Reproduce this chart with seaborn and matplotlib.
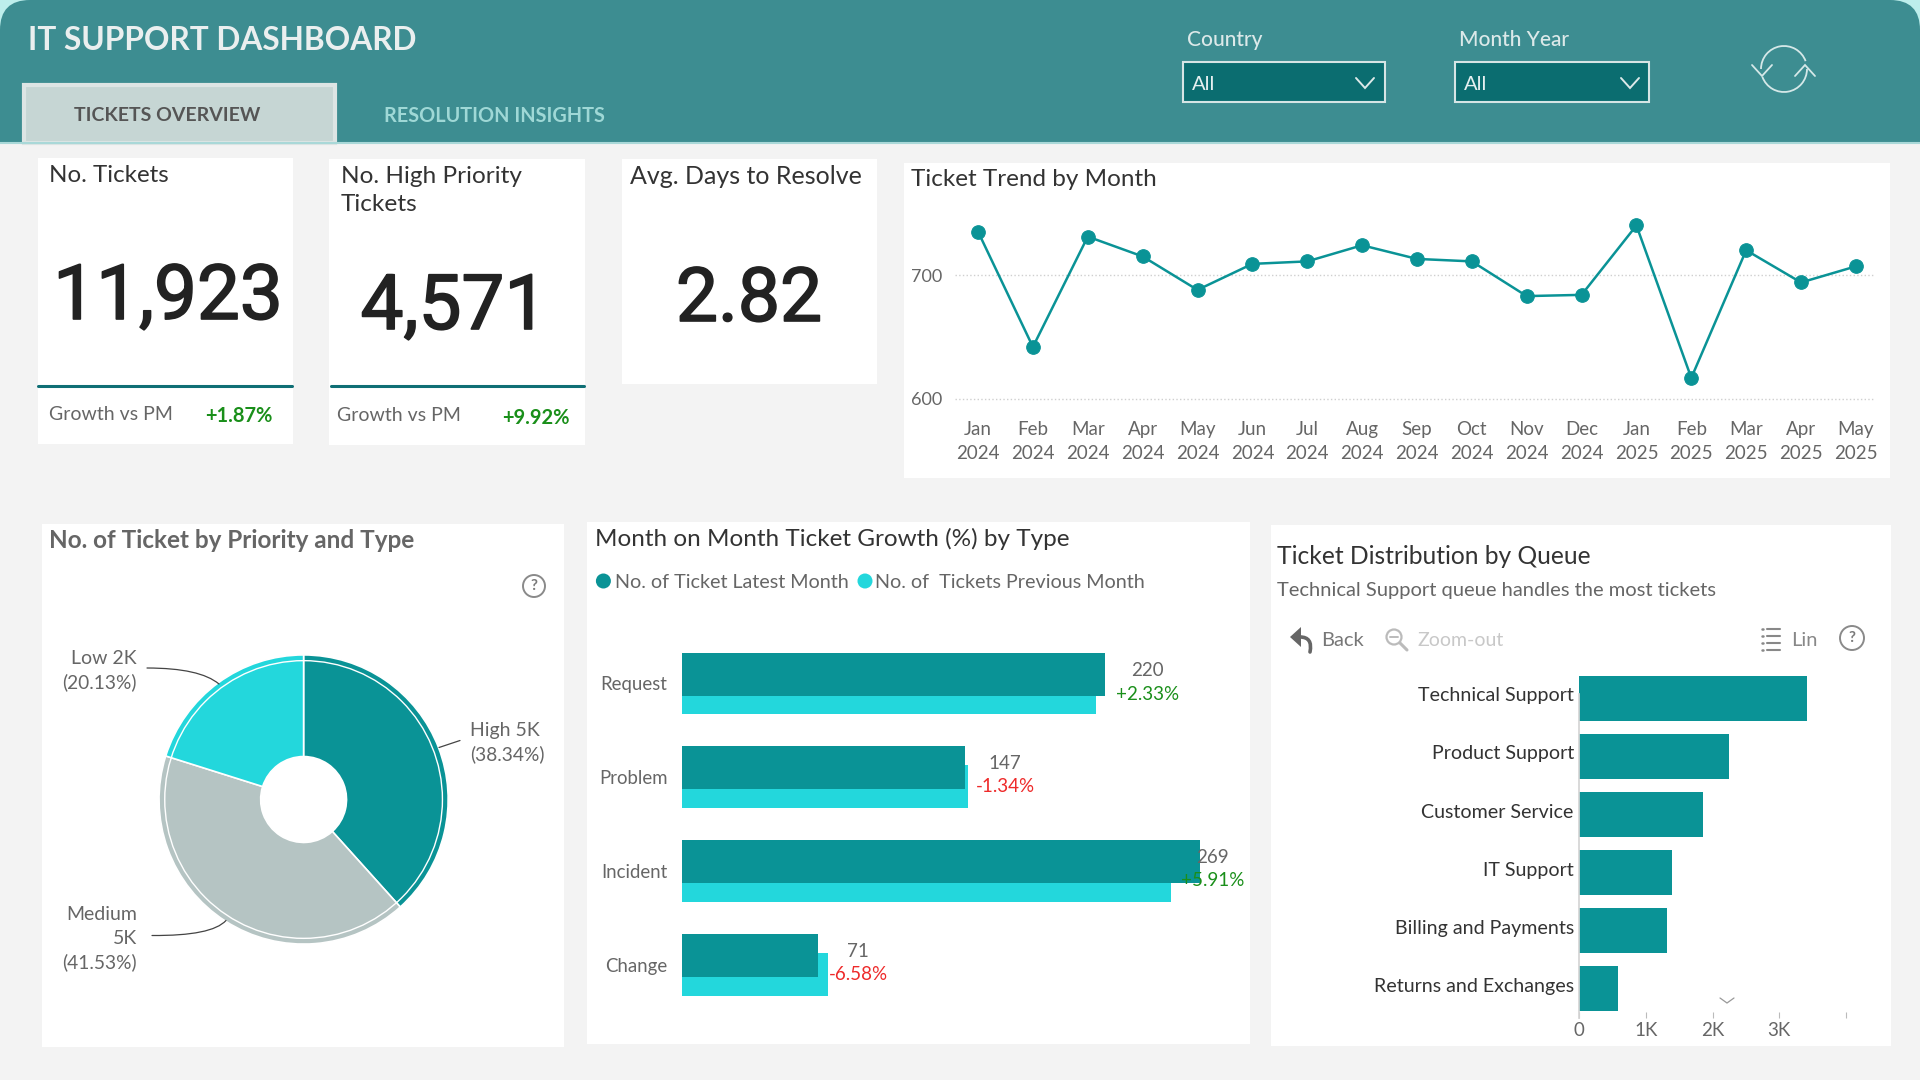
import matplotlib
matplotlib.use("Agg")
import matplotlib.patheffects as pe
import matplotlib.pyplot as plt
import pandas as pd
import seaborn as sns
from matplotlib.patches import Circle, FancyBboxPatch, PathPatch, Polygon, Rectangle
from matplotlib.path import Path
from matplotlib.transforms import Affine2D, ScaledTranslation

# chart values
months = ["Jan\n2024", "Feb\n2024", "Mar\n2024", "Apr\n2024", "May\n2024", "Jun\n2024",
          "Jul\n2024", "Aug\n2024", "Sep\n2024", "Oct\n2024", "Nov\n2024", "Dec\n2024",
          "Jan\n2025", "Feb\n2025", "Mar\n2025", "Apr\n2025", "May\n2025"]
tickets_by_month = [735, 642, 731, 715, 688, 709, 711, 724, 713, 711, 683, 684, 740, 617, 720, 694, 707]

priorities = ["High", "Medium", "Low"]
priority_share = [38.34, 41.53, 20.13]

ticket_types = ["Request", "Problem", "Incident", "Change"]
latest_month = [220, 147, 269, 71]
previous_month = [215, 149, 254, 76]
growth_labels = ["+2.33%", "-1.34%", "+5.91%", "-6.58%"]

queues = ["Technical Support", "Product Support", "Customer Service", "IT Support",
          "Billing and Payments", "Returns and Exchanges"]
queue_tickets = [3420, 2240, 1860, 1390, 1310, 580]
queue_ticks = [0, 1000, 2000, 3000, 4000]
queue_tick_labels = ["0", "1K", "2K", "3K", ""]

# colours
TEAL = "#0A9396"
CYAN = "#23D7DC"
SLATE = "#B5C4C3"
HEADER = "#3D8D91"
DARK = "#333333"
GREY = "#666666"
GREEN = "#1A8F1A"
RED = "#EE2A2A"

W, H = 1920, 1080

sns.set_theme(style="white")
plt.rcParams["font.family"] = ["Lato", "DejaVu Sans"]

fig = plt.figure(figsize=(19.2, 10.8), dpi=100, facecolor="#F3F3F3")


def px_axes(left, top, right, bottom, z=1):
    ax = fig.add_axes([left / W, 1 - bottom / H, (right - left) / W, (bottom - top) / H], zorder=z)
    ax.set_facecolor("none")
    return ax


# pixel layers for the dashboard chrome, one behind the charts and one on top
bg = px_axes(0, 0, W, H, z=0)
fg = px_axes(0, 0, W, H, z=10)
for layer in (bg, fg):
    layer.set_xlim(0, W)
    layer.set_ylim(H, 0)
    layer.axis("off")


def txt(x, y, s, size=14, color=GREY, weight="normal", ha="left", family=None):
    return fg.text(x, y + 1.5, s, fontsize=size, color=color, fontweight=weight, ha=ha, va="center",
                   family=family or ["Lato", "DejaVu Sans"])


def big_number(x, y, s, size=55):
    # regular Roboto is a bit thin next to the original, thicken it slightly
    number = txt(x, y, s, size=size, color="#222222", ha="center", family=["Roboto"])
    number.set_path_effects([pe.withStroke(linewidth=1.2, foreground="#222222")])


def panel(left, top, right, bottom):
    bg.add_patch(Rectangle((left, top), right - left, bottom - top, fc="white", ec="none"))


def stroke(points, color, lw=1.0, curve=False):
    codes = [Path.MOVETO] + ([Path.CURVE3, Path.CURVE3] if curve else [Path.LINETO] * (len(points) - 1))
    fg.add_patch(PathPatch(Path(points, codes), fc="none", ec=color, lw=lw, capstyle="round"))


def help_icon(x, y, r=11):
    fg.add_patch(Circle((x, y), r, fc="none", ec="#8A8A8A", lw=1.4))
    txt(x, y - 1.5, "?", size=11, color="#7A7A7A", weight="bold", ha="center")


# Header:
def draw_header():
    bg.add_patch(Rectangle((0, 0), W, 40, fc="#BDEEEC", ec="none"))
    bg.add_patch(FancyBboxPatch((30, 30), W - 60, 200, boxstyle="round,pad=30,rounding_size=30",
                                fc=HEADER, ec="none"))
    bg.add_patch(Rectangle((0, 143), W, H - 143, fc="#F3F3F3", ec="none"))
    bg.plot([0, W], [143, 143], color="#A9D8D8", lw=1.5)
    bg.add_patch(Rectangle((24, 85), 311, 58, fc="#C6D6D4", ec="#DDE5E4", lw=3))
    txt(28, 38.5, "IT SUPPORT DASHBOARD", size=22.8, color="#EAEFEF", weight="bold")
    txt(167, 114, "TICKETS OVERVIEW", size=14, color="#555555", weight="bold", ha="center")
    txt(384, 114, "RESOLUTION INSIGHTS", size=14.3, color="#9FD8D6", weight="bold")

    for label, x0, x1, chev in (("Country", 1183, 1385, 1365), ("Month Year", 1455, 1649, 1630)):
        txt(x0 + 4, 39, label, size=15, color="#DCE9E9", weight="medium")
        bg.add_patch(Rectangle((x0, 62), x1 - x0, 40, fc="#0B6D70", ec="#D6E5E5", lw=1.5))
        txt(x0 + 9, 83, "All", size=14.5, color="#E6F0F0")
        stroke([(chev - 9, 78), (chev, 88), (chev + 9, 78)], "#DCE9E9", lw=1.4)

    # refresh icon
    cx, cy, r = 1784, 69, 23
    ring = Affine2D().scale(r).translate(cx, cy)
    fg.add_patch(PathPatch(Path.arc(180, 340).transformed(ring), fc="none", ec="#D5E8E8", lw=1.3))
    fg.add_patch(PathPatch(Path.arc(0, 160).transformed(ring), fc="none", ec="#D5E8E8", lw=1.3))
    stroke([(1752, 65), (1762, 76), (1772, 65)], "#D5E8E8", lw=1.3)
    stroke([(1795, 76), (1805, 65), (1815, 76)], "#D5E8E8", lw=1.3)


# KPI cards:
def draw_cards():
    panel(38, 158, 293, 444)
    panel(329, 159, 585, 445)
    panel(622, 159, 877, 384)
    bg.plot([38, 292], [386, 386], color="#0F6F75", lw=2.2)
    bg.plot([331, 584], [386, 386], color="#0F6F75", lw=2.2)

    txt(49, 174, "No. Tickets", size=17.4, color=DARK)
    big_number(168, 297, "11,923")
    txt(49, 413, "Growth vs PM", size=14)
    txt(205, 414, "+1.87%", size=14.5, color=GREEN, weight="bold")

    txt(341, 175, "No. High Priority", size=17.6, color=DARK)
    txt(341, 203, "Tickets", size=17.6, color=DARK)
    big_number(454, 307, "4,571")
    txt(337, 414, "Growth vs PM", size=14)
    txt(502, 417, "+9.92%", size=14.5, color=GREEN, weight="bold")

    txt(630, 175, "Avg. Days to Resolve", size=18, color=DARK)
    big_number(749, 299, "2.82", size=54)


#Line chart:
def draw_trend():
    panel(904, 163, 1890, 478)
    txt(911, 178, "Ticket Trend by Month", size=17.5, color=DARK)

    ax = px_axes(955, 205, 1874, 410)
    sns.lineplot(x=months, y=tickets_by_month, sort=False, color=TEAL, linewidth=1.8, marker="o",
                 markersize=9.8, markeredgecolor=TEAL, ax=ax)
    ax.set_xlim(-0.42, 16.33)
    ax.set_ylim(591.1, 756.5)
    ax.set_yticks([600, 700])
    ax.grid(axis="y", linestyle=":", color="#CFCFCF", linewidth=1)
    ax.tick_params(axis="x", length=0, labelsize=13.5, labelcolor=GREY, pad=8)
    ax.tick_params(axis="y", length=0, labelsize=13, labelcolor=GREY, pad=9)
    for tick in ax.get_xticklabels():
        tick.set_linespacing(1.5)
    sns.despine(ax=ax, left=True, bottom=True)


#Pie Chart:
def draw_priority():
    panel(42, 524, 564, 1047)
    txt(49, 539, "No. of Ticket by Priority and Type", size=17.5, color=GREY, weight="bold")
    help_icon(534, 586)

    ax = px_axes(303.6 - 146, 799.5 - 146, 303.6 + 146, 799.5 + 146)
    colors = sns.color_palette([TEAL, SLATE, CYAN])
    ax.pie(priority_share, colors=colors, startangle=90, counterclock=False, radius=1.01,
           wedgeprops={"width": 0.71, "edgecolor": "white", "linewidth": 1.2})
    ax.add_patch(Circle((0, 0), 0.97, fc="none", ec="white", lw=1))
    ax.set_xlim(-1.02, 1.02)
    ax.set_ylim(-1.02, 1.02)

    txt(470, 729, "High 5K", size=14)
    txt(470, 753, "(38.34%)", size=13.8)
    txt(137, 657, "Low 2K", size=14, ha="right")
    txt(137, 681, "(20.13%)", size=13.8, ha="right")
    txt(137, 913, "Medium", size=14, ha="right")
    txt(137, 937, "5K", size=14, ha="right")
    txt(137, 961, "(41.53%)", size=13.8, ha="right")
    stroke([(439, 747.5), (460, 740.5)], "#444444", lw=0.9)
    stroke([(147, 668), (200, 668), (219, 684)], "#444444", lw=0.9, curve=True)
    stroke([(152, 935.5), (212, 936), (226, 920.5)], "#444444", lw=0.9, curve=True)


#Bar chart, latest month over previous month:
def draw_growth():
    panel(587, 522, 1250, 1044)
    txt(595, 537, "Month on Month Ticket Growth (%) by Type", size=17.5, color=DARK)
    fg.add_patch(Circle((603.4, 581), 7.5, fc=TEAL, ec="none"))
    txt(615, 581, "No. of Ticket Latest Month", size=14.2)
    fg.add_patch(Circle((865, 581), 7.5, fc=CYAN, ec="none"))
    txt(875, 581, "No. of  Tickets Previous Month", size=14.2)

    df = pd.DataFrame({
        "type": ticket_types * 2,
        "tickets": latest_month + previous_month,
        "month": ["Latest"] * 4 + ["Previous"] * 4,
    })
    ax = px_axes(681.5, 636.3, 1240, 1012)
    sns.barplot(data=df, x="tickets", y="type", hue="month", hue_order=["Latest", "Previous"],
                palette=[TEAL, CYAN], saturation=1, linewidth=0, width=0.394, gap=-1.324,
                errorbar=None, legend=False, ax=ax)
    for patch in ax.containers[0]:
        patch.set_zorder(3)
    ax.set_xlim(0, 290)
    ax.set_xticks([])
    ax.set_xlabel("")
    ax.set_ylabel("")
    ax.tick_params(axis="y", length=0, labelsize=13.4, labelcolor=GREY, pad=10)
    sns.despine(ax=ax, left=True, bottom=True)

    # value and growth labels sit next to the bars
    label_x = [1147, 1004.5, 1212, 857.5]
    label_y = [669, 762, 856, 949.6]
    for x, y, count, growth in zip(label_x, label_y, latest_month, growth_labels):
        txt(x, y, str(count), size=13.5, ha="center")
        txt(x + 1, y + 23.5, growth, size=13.5, color=GREEN if growth[0] == "+" else RED, ha="center")


#Horizontal bars by queue:
def draw_queue():
    panel(1270.5, 525, 1890.5, 1046)
    txt(1277, 555, "Ticket Distribution by Queue", size=17.7, color=DARK)
    txt(1277, 589, "Technical Support queue handles the most tickets", size=14.5)

    # toolbar
    fg.add_patch(Polygon([(1290, 637), (1301, 627), (1301, 647)], fc="#666666", ec="none"))
    stroke([(1300, 637), (1313, 637), (1310, 652)], "#666666", lw=2.6, curve=True)
    txt(1321, 639, "Back", size=14.5, color="#777777")
    fg.add_patch(Circle((1394, 637), 7.5, fc="none", ec="#BBBBBB", lw=1.6))
    stroke([(1390, 637), (1398, 637)], "#BBBBBB", lw=1.4)
    stroke([(1400, 643), (1407, 650)], "#BBBBBB", lw=2.2)
    txt(1418, 639, "Zoom-out", size=14, color="#C8C8C8")
    for y in (629, 636, 643, 650):
        stroke([(1767, y), (1780, y)], "#888888", lw=1.5)
        stroke([(1762, y), (1763, y)], "#888888", lw=1.8)
    txt(1791, 639, "Lin", size=14.5, color="#888888")
    help_icon(1852, 638, r=12)

    ax = px_axes(1579.4, 669.3, 1860, 1018)
    sns.barplot(x=queue_tickets, y=queues, color=TEAL, saturation=1, linewidth=0, width=0.773,
                errorbar=None, ax=ax)
    ax.set_xlim(0, 4213)
    ax.set_xticks(queue_ticks, queue_tick_labels)
    ax.tick_params(axis="x", direction="in", length=4, width=0.8, color="#BBBBBB", bottom=True,
                   labelsize=13.5, labelcolor=GREY, pad=3)
    ax.tick_params(axis="y", length=0, labelsize=14.1, labelcolor=DARK, pad=4)
    up = ScaledTranslation(0, 4 / 100, fig.dpi_scale_trans)
    for label in ax.get_yticklabels():
        label.set_transform(label.get_transform() + up)
    sns.despine(ax=ax, bottom=True)
    ax.spines["left"].set_color("#D5D5D5")
    ax.spines["left"].set_bounds(-0.07, 5.5)
    stroke([(1720, 998), (1727, 1003), (1734, 998)], "#999999", lw=0.9)


draw_header()
draw_cards()
draw_trend()
draw_priority()
draw_growth()
draw_queue()

fig.savefig("out.png", dpi=100, facecolor=fig.get_facecolor())
